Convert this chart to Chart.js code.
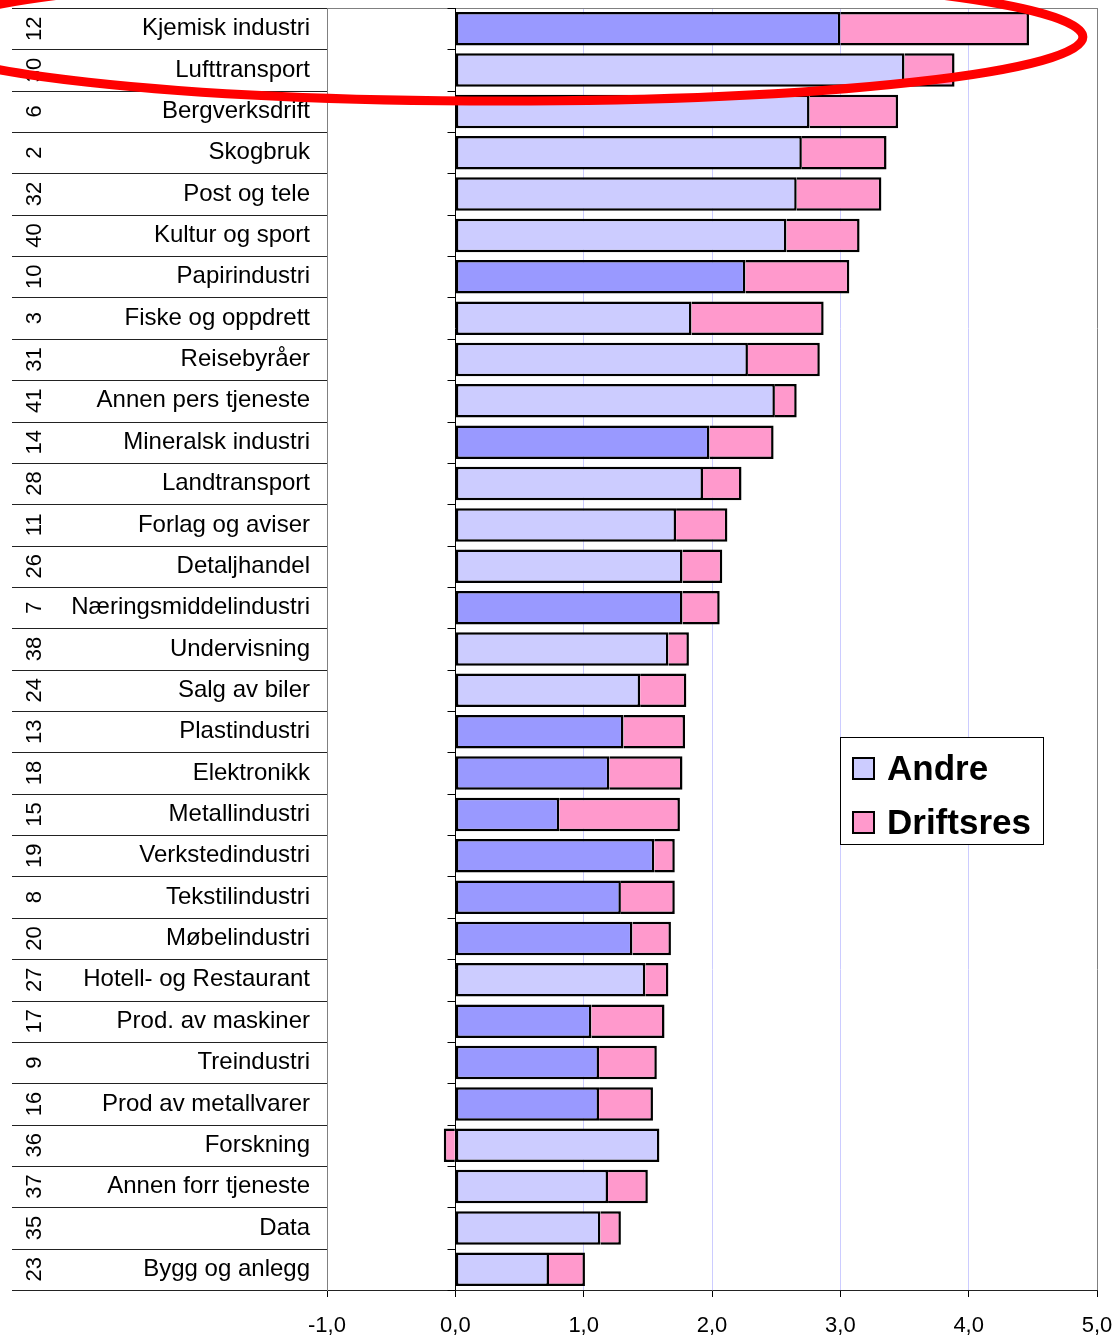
<!DOCTYPE html>
<html>
<head>
<meta charset="utf-8">
<script src="https://cdn.jsdelivr.net/npm/chart.js@4/dist/chart.umd.min.js"></script>
<style>
  html, body { margin: 0; padding: 0; background: #fff; }
  canvas { display: block; }
</style>
</head>
<body>
<canvas id="chart" width="1120" height="1337"></canvas>
<script>
// bransjer, sortert etter sum (Andre + Driftsres)
var bransjer = ['Kjemisk industri', 'Lufttransport', 'Bergverksdrift', 'Skogbruk', 'Post og tele',
    'Kultur og sport', 'Papirindustri', 'Fiske og oppdrett', 'Reisebyråer', 'Annen pers tjeneste',
    'Mineralsk industri', 'Landtransport', 'Forlag og aviser', 'Detaljhandel', 'Næringsmiddelindustri',
    'Undervisning', 'Salg av biler', 'Plastindustri', 'Elektronikk', 'Metallindustri',
    'Verkstedindustri', 'Tekstilindustri', 'Møbelindustri', 'Hotell- og Restaurant', 'Prod. av maskiner',
    'Treindustri', 'Prod av metallvarer', 'Forskning', 'Annen forr tjeneste', 'Data', 'Bygg og anlegg'];
var koder = ['12', '30', '6', '2', '32', '40', '10', '3', '31', '41', '14', '28', '11', '26', '7',
    '38', '24', '13', '18', '15', '19', '8', '20', '27', '17', '9', '16', '36', '37', '35', '23'];
var andre = [3.00, 3.50, 2.76, 2.70, 2.66, 2.58, 2.26, 1.84, 2.28, 2.49, 1.98, 1.93, 1.72, 1.77, 1.77,
    1.66, 1.44, 1.31, 1.20, 0.81, 1.55, 1.29, 1.38, 1.48, 1.06, 1.12, 1.12, 1.59, 1.19, 1.13, 0.73];
var driftsres = [1.47, 0.39, 0.69, 0.66, 0.66, 0.57, 0.81, 1.03, 0.56, 0.17, 0.50, 0.30, 0.40, 0.31, 0.29,
    0.16, 0.36, 0.48, 0.57, 0.94, 0.16, 0.42, 0.30, 0.18, 0.57, 0.45, 0.42, -0.09, 0.31, 0.16, 0.28];
// 1 = industribransje (mørkere farge)
var industri = [1, 0, 0, 0, 0, 0, 1, 0, 0, 0, 1, 0, 0, 0, 1,
    0, 0, 1, 1, 1, 1, 1, 1, 0, 1, 1, 1, 0, 0, 0, 0];
var xMin = -1, xMax = 5;

var FONT = "'Liberation Sans', Arial, sans-serif";
var LYS = '#ccccff', MORK = '#9999ff', ROSA = '#ff99cc';

var tabell = {
    id: 'tabell',
    afterDraw: function (chart) {
        var c = chart.ctx, a = chart.chartArea;
        var x = chart.scales.x, y = chart.scales.y;
        var rowH = y.getPixelForValue(1) - y.getPixelForValue(0);
        var x0 = Math.round(x.getPixelForValue(0)) + 0.5;
        c.save();

        // topp-ramme
        c.strokeStyle = '#808080';
        c.lineWidth = 1;
        c.beginPath();
        c.moveTo(a.left, a.top + 0.5);
        c.lineTo(a.right, a.top + 0.5);
        c.stroke();

        // kategoriakse ved 0
        c.strokeStyle = '#000';
        c.beginPath();
        c.moveTo(x0, a.top);
        c.lineTo(x0, a.bottom);
        for (var i = 0; i <= bransjer.length; i++) {
            var yy = Math.round(y.getPixelForValue(i) - rowH / 2) + 0.5;
            c.moveTo(x0 - 8, yy);
            c.lineTo(x0, yy);
        }
        c.stroke();

        // skillelinjer og koder til venstre
        c.strokeStyle = '#222';
        c.beginPath();
        for (var j = 0; j <= bransjer.length; j++) {
            var ly = Math.round(y.getPixelForValue(j) - rowH / 2) + 0.5;
            c.moveTo(12, ly);
            c.lineTo(a.left, ly);
        }
        c.stroke();

        c.fillStyle = '#000';
        c.font = '22px ' + FONT;
        c.textAlign = 'center';
        c.textBaseline = 'middle';
        koder.forEach(function (k, idx) {
            c.save();
            c.translate(34, y.getPixelForValue(idx));
            c.rotate(-Math.PI / 2);
            c.fillText(k, 0, 1);
            c.restore();
        });

        // forklaring
        var lx = a.right - 257, ly0 = a.top + 729;
        c.fillStyle = '#fff';
        c.fillRect(lx, ly0, 203, 107);
        c.strokeStyle = '#000';
        c.strokeRect(lx + 0.5, ly0 + 0.5, 203, 107);
        var items = [['Andre', LYS], ['Driftsres', ROSA]];
        c.font = 'bold 35px ' + FONT;
        c.textAlign = 'left';
        c.textBaseline = 'alphabetic';
        items.forEach(function (it, n) {
            var sy = ly0 + 21 + n * 54;
            c.fillStyle = it[1];
            c.fillRect(lx + 13, sy, 21, 21);
            c.lineWidth = 2;
            c.strokeStyle = '#000';
            c.strokeRect(lx + 13, sy, 21, 21);
            c.fillStyle = '#000';
            c.fillText(it[0], lx + 47, sy + 22);
        });

        // rød ring rundt de to øverste
        c.strokeStyle = '#ff0000';
        c.lineWidth = 9;
        c.beginPath();
        c.ellipse(x.getPixelForValue(0.35), y.getPixelForValue(0) + 0.2 * rowH,
            x.getPixelForValue(4.54) - x.getPixelForValue(0), 1.55 * rowH, 0, 0, Math.PI * 2);
        c.stroke();
        c.restore();
    }
};

new Chart(document.getElementById('chart'), {
    type: 'bar',
    data: {
        labels: bransjer,
        datasets: [{
            label: 'Andre',
            data: andre,
            backgroundColor: industri.map(function (v) { return v ? MORK : LYS; }),
            borderColor: '#000',
            borderWidth: 2.5,
            borderSkipped: false
        }, {
            label: 'Driftsres',
            data: driftsres,
            backgroundColor: ROSA,
            borderColor: '#000',
            borderWidth: 2.5,
            borderSkipped: 'start'
        }]
    },
    options: {
        indexAxis: 'y',
        responsive: false,
        animation: false,
        layout: { padding: { top: 8, right: 23, left: 0, bottom: 0 } },
        datasets: { bar: { barPercentage: 0.81, categoryPercentage: 1 } },
        plugins: {
            legend: { display: false },
            tooltip: { enabled: false }
        },
        scales: {
            x: {
                stacked: true,
                min: xMin,
                max: xMax,
                afterFit: function (s) {
                    s.height = 47;
                    s.paddingLeft = 0;
                    s.paddingRight = 0;
                },
                ticks: {
                    stepSize: 1,
                    color: '#000',
                    padding: 16,
                    font: { family: FONT, size: 22 },
                    callback: function (v) { return v.toFixed(1).replace('.', ','); }
                },
                grid: {
                    color: function (ctx) {
                        var v = ctx.tick ? ctx.tick.value : null;
                        if (v === xMin || v === xMax) return '#808080';
                        if (v === 0) return 'rgba(0,0,0,0)';
                        return LYS;
                    },
                    tickColor: '#000',
                    tickLength: 7
                },
                border: { color: '#222', width: 1 }
            },
            y: {
                stacked: true,
                afterFit: function (s) {
                    s.width = 327;
                    s.paddingTop = 0;
                    s.paddingBottom = 0;
                },
                ticks: {
                    color: '#000',
                    padding: 17,
                    font: { family: FONT, size: 24 }
                },
                grid: { display: false, drawTicks: false },
                border: { display: true, color: '#808080', width: 1 }
            }
        }
    },
    plugins: [tabell]
});
</script>
</body>
</html>
